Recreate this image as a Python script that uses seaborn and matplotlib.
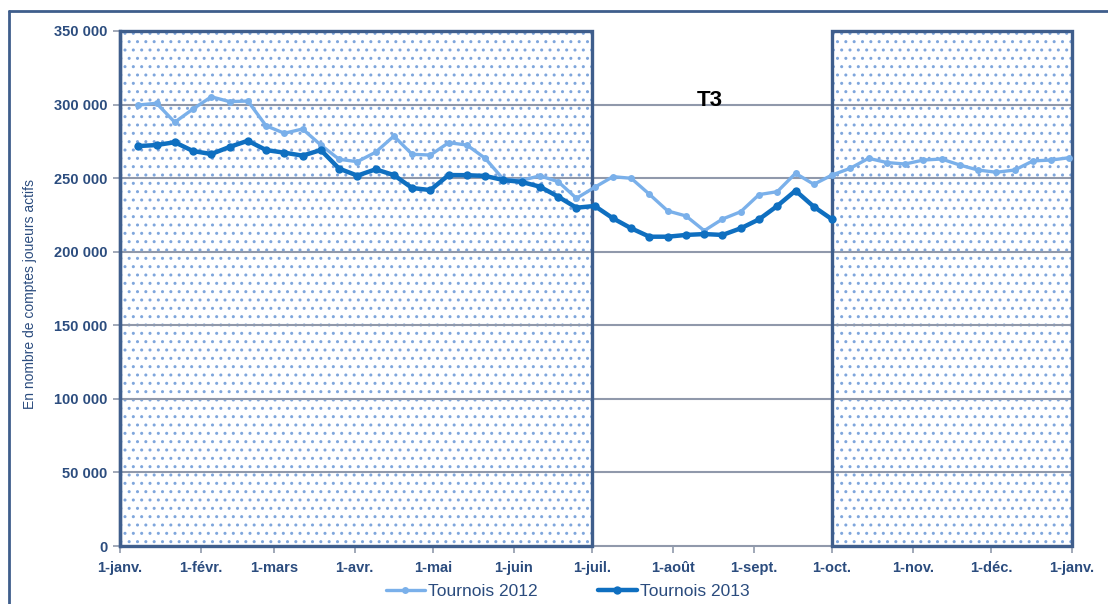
import numpy as np
import pandas as pd
import matplotlib
matplotlib.use("Agg")
import matplotlib.pyplot as plt
import matplotlib.dates as mdates
from matplotlib.patches import Rectangle
from matplotlib.lines import Line2D
import seaborn as sns

# ---------------- data ----------------
week_dates_2012 = pd.date_range("2013-01-08", periods=52, freq="7D")
week_dates_2013 = week_dates_2012[:39]

tournois_2012 = [
    299700, 300900, 288000, 297000, 305300, 302000, 302400, 285600, 280500, 283400,
    272500, 262800, 261200, 267600, 278600, 266200, 265700, 274100, 272500, 263500,
    249200, 248500, 251600, 247600, 236300, 243800, 251000, 249900, 239000, 227700,
    224300, 214300, 222200, 227200, 238800, 240800, 253300, 245800, 252100, 256700,
    263500, 260600, 259600, 262300, 263000, 258900, 255500, 254000, 255500, 261700,
    262300, 263900,
]
tournois_2013 = [
    271800, 272500, 274400, 268400, 266400, 271200, 275400, 269100, 267300, 265300,
    269100, 256500, 251700, 256000, 252100, 243300, 241900, 252100, 252000, 251500,
    248700, 247400, 244200, 237400, 229900, 231100, 222700, 215900, 210200, 210200,
    211400, 212000, 211400, 215900, 222000, 231100, 241500, 230600, 222000,
]
series_names = ["Tournois 2012", "Tournois 2013"]
month_labels = ["1-janv.", "1-févr.", "1-mars", "1-avr.", "1-mai", "1-juin", "1-juil.",
                "1-août", "1-sept.", "1-oct.", "1-nov.", "1-déc.", "1-janv."]
y_ticks = [0, 50000, 100000, 150000, 200000, 250000, 300000, 350000]
y_label = "En nombre de comptes joueurs actifs"
band_label = "T3"

df12 = pd.DataFrame({"date": week_dates_2012, "value": tournois_2012, "serie": series_names[0]})
df13 = pd.DataFrame({"date": week_dates_2013, "value": tournois_2013, "serie": series_names[1]})

# ---------------- style ----------------
sns.set_style("white")
plt.rcParams["font.family"] = ["Liberation Sans", "DejaVu Sans"]
plt.rcParams["hatch.linewidth"] = 1.0

text_blue = "#2b4c7e"
frame_blue = "#3f5e8c"
grid_gray = "#9099ab"
light_blue = "#7ab0ea"
dark_blue = "#0f6fc0"
hatch_blue = "#7fa6dc"

fig = plt.figure(figsize=(11.08, 6.04), dpi=100)
ax = fig.add_axes([120 / 1108, 1 - 546 / 604, 952 / 1108, 515 / 604])

x0 = pd.Timestamp("2013-01-01")
x1 = pd.Timestamp("2014-01-01")
jul = pd.Timestamp("2013-07-01")
octo = pd.Timestamp("2013-10-01")

# hatched (dotted) shaded periods
for a, b in [(x0, jul), (octo, x1)]:
    xa, xb = mdates.date2num(a), mdates.date2num(b)
    ax.add_patch(Rectangle((xa, 0), xb - xa, 350000, facecolor="white",
                           edgecolor=hatch_blue, hatch="..", linewidth=0, zorder=0.5))

# grid
for v in y_ticks[1:-1]:
    ax.axhline(v, color=grid_gray, linewidth=1.5, zorder=1)

# lines
sns.lineplot(data=df12, x="date", y="value", ax=ax, color=light_blue, linewidth=2.4,
             marker="o", markersize=5, markeredgewidth=0, zorder=4, label=series_names[0])
sns.lineplot(data=df13, x="date", y="value", ax=ax, color=dark_blue, linewidth=3.2,
             marker="o", markersize=6, markeredgewidth=0, zorder=5, label=series_names[1])

# box borders
for a, b in [(x0, jul), (octo, x1)]:
    xa, xb = mdates.date2num(a), mdates.date2num(b)
    ax.add_patch(Rectangle((xa, 0), xb - xa, 350000, facecolor="none",
                           edgecolor=frame_blue, linewidth=2.4, zorder=3, clip_on=False))

ax.text(mdates.date2num(pd.Timestamp("2013-08-15")), 303000, band_label, fontsize=16,
        fontweight="bold", color="black", ha="center", va="center", zorder=6)

# axes
ax.set_xlim(x0, x1)
ax.set_ylim(0, 350000)
ticks = pd.date_range("2013-01-01", "2014-01-01", freq="MS")
ax.set_xticks(ticks)
ax.set_xticklabels(month_labels)
ax.set_yticks(y_ticks)
ax.set_yticklabels([f"{v:,}".replace(",", " ") for v in y_ticks])
ax.tick_params(axis="both", which="both", length=5, width=1.2, color=grid_gray,
               labelcolor=text_blue, labelsize=10.5, direction="out", pad=4)
for lbl in ax.get_xticklabels() + ax.get_yticklabels():
    lbl.set_fontweight("bold")
ax.tick_params(axis="x", bottom=True, pad=6)
ax.tick_params(axis="y", left=True)

for s in ["top", "right"]:
    ax.spines[s].set_visible(False)
ax.spines["left"].set_color(frame_blue)
ax.spines["left"].set_linewidth(2.4)
ax.spines["bottom"].set_color(grid_gray)
ax.spines["bottom"].set_linewidth(1.5)

ax.set_xlabel("")
ax.set_ylabel(y_label, fontsize=10, color=text_blue)
ax.yaxis.set_label_coords(-0.087, 0.49)

leg = ax.legend(loc="center", bbox_to_anchor=(568 / 1108, 13 / 604),
                bbox_transform=fig.transFigure, ncol=2, frameon=False,
                fontsize=12.5, handlelength=2.2, columnspacing=3.5, handletextpad=0.2)
for t in leg.get_texts():
    t.set_color(text_blue)

# outer frame
fig.add_artist(Line2D([9 / 1108, 1.0], [1 - 11 / 604, 1 - 11 / 604], color=frame_blue,
                      linewidth=2, transform=fig.transFigure))
fig.add_artist(Line2D([9 / 1108, 9 / 1108], [0, 1 - 11 / 604], color=frame_blue,
                      linewidth=2, transform=fig.transFigure))

fig.savefig("out.png", dpi=100)
